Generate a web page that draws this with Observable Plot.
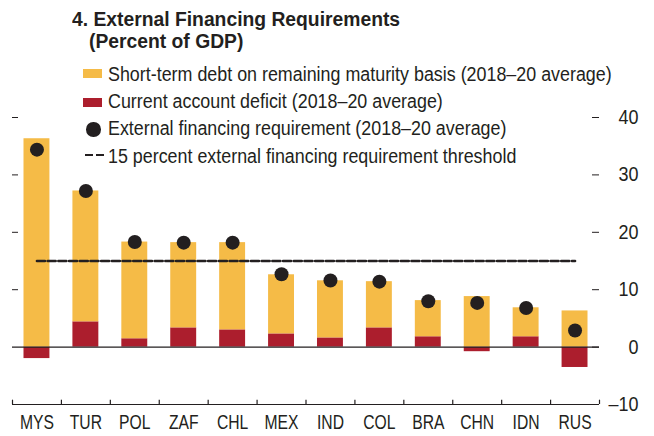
<!DOCTYPE html>
<html><head><meta charset="utf-8">
<script src="https://cdn.jsdelivr.net/npm/d3@7"></script>
<script src="https://cdn.jsdelivr.net/npm/@observablehq/plot@0.6"></script>
<style>
body{margin:0;background:#fff;}
#wrap{position:relative;width:654px;height:436px;font-family:"Liberation Sans",Arial,sans-serif;color:#231f20;}
#wrap svg{position:absolute;left:0;top:0;}
.t{position:absolute;white-space:nowrap;line-height:1;transform-origin:0 0;}
.sw{position:absolute;}
</style></head><body>
<div id="wrap"></div>
<script>
const categories = ["MYS","TUR","POL","ZAF","CHL","MEX","IND","COL","BRA","CHN","IDN","RUS"];
const shortTermDebt = [36.3,22.8,16.85,14.85,15.2,10.3,9.95,8.05,6.3,8.8,5.05,6.3];
const currentAccountDeficit = [-2.0,4.4,1.45,3.35,3.0,2.3,1.6,3.35,1.8,-0.8,1.8,-3.55];
const externalFinancingRequirement = [34.4,27.2,18.3,18.2,18.2,12.7,11.6,11.4,8.0,7.7,6.8,2.9];
const threshold = 15;
const yTicks = [-10,0,10,20,30,40];
const titleLines = ["4. External Financing Requirements","(Percent of GDP)"];
const legendLabels = [
  "Short-term debt on remaining maturity basis (2018–20 average)",
  "Current account deficit (2018–20 average)",
  "External financing requirement (2018–20 average)",
  "15 percent external financing requirement threshold"
];
const YELLOW = "#f5bb47", RED = "#ac1e2d", INK = "#231f20";
const FONT = '"Liberation Sans",Arial,sans-serif';

const rows = [];
categories.forEach((c,i)=>{
  rows.push({c, s:"ca", v: currentAccountDeficit[i]});
  rows.push({c, s:"st", v: shortTermDebt[i]});
});
const dots = categories.map((c,i)=>({c, v: externalFinancingRequirement[i]}));

const W=654, H=436, mL=12, mR=55, mT=117, mB=32;
const step = (W-mL-mR)/categories.length;

const chart = Plot.plot({
  width: W, height: H,
  marginLeft: mL, marginRight: mR, marginTop: mT, marginBottom: mB,
  style: {fontFamily: FONT, fontSize: "20px", color: INK, background: "transparent"},
  x: {type: "band", domain: categories, paddingInner: 0.47, paddingOuter: 0.235, round: false, axis: null},
  y: {domain: [-10, 40], axis: null},
  color: {domain: ["ca","st"], range: [RED, YELLOW]},
  marks: [
    Plot.barY(rows, Plot.stackY({x: "c", y: "v", fill: "s", order: null})),
    Plot.ruleY([0], {stroke: INK, strokeWidth: 1.2}),
    Plot.ruleY([-10], {stroke: INK, strokeWidth: 1.2}),
    Plot.ruleX(categories, {x: d=>d, dx: -step/2, y1: -10, y2: -9.25, stroke: INK, strokeWidth: 1.2}),
    Plot.ruleX(categories.slice(-1), {x: d=>d, dx: step/2, y1: -10, y2: -9.25, stroke: INK, strokeWidth: 1.2}),
    Plot.tickY(yTicks.filter(d=>d>=0), {y: d=>d, insetLeft: W-mL-mR-7, stroke: INK, strokeWidth: 1}),
    Plot.tickY(yTicks.filter(d=>d>0), {y: d=>d, insetRight: W-mL-mR-6, stroke: INK, strokeWidth: 1}),
    Plot.text(yTicks, {y: d=>d, text: d => d < 0 ? "–" + Math.abs(d) : String(d), frameAnchor: "right", textAnchor: "end", lineAnchor: "middle", dx: 39, fontSize: 20, fill: INK}),
    Plot.text(categories, {x: d=>d, text: d=>d, frameAnchor: "bottom", lineAnchor: "middle", dy: 18, fontSize: 20, fill: INK}),
    Plot.lineY(categories, {x: d=>d, y: () => threshold, stroke: INK, strokeWidth: 2.6, strokeDasharray: "8,2.7"}),
    Plot.dot(dots, {x: "c", y: "v", r: 7, fill: INK})
  ]
});
const wrap = document.getElementById("wrap");
wrap.appendChild(chart);

// condense svg text (reference uses a condensed typeface)
const texts = Array.from(chart.querySelectorAll("text"));
const lenOf = s => { const t = texts.find(e => e.textContent === s); return t ? t.getComputedTextLength() : 1; };
const fx = 34 / lenOf("MYS"), fy = 20 / lenOf("40");
texts.forEach(t => {
  const isY = yTicks.some(v => t.textContent === (v < 0 ? "–" + Math.abs(v) : String(v)));
  const f = isY ? fy : fx;
  t.setAttribute("textLength", (t.getComputedTextLength() * f).toFixed(2));
  t.setAttribute("lengthAdjust", "spacingAndGlyphs");
});

function addText(txt, left, baseline, size, bold){
  const d = document.createElement("div");
  d.className = "t";
  d.textContent = txt;
  d.style.left = left+"px"; d.style.top = (baseline - size*0.847)+"px";
  d.style.fontSize = size+"px";
  if (bold) d.style.fontWeight = "bold";
  wrap.appendChild(d);
  return d;
}
function condense(els, target){
  const f = target / els[0].offsetWidth;
  els.forEach(e => e.style.transform = `scaleX(${f})`);
}
const t1 = addText(titleLines[0], 72, 26, 20, true);
const t2 = addText(titleLines[1], 89, 48, 20, true);
condense([t1, t2], 328);

function sw(left, top, w, h, bg, radius){
  const d = document.createElement("div");
  d.className = "sw";
  Object.assign(d.style, {left:left+"px", top:top+"px", width:w+"px", height:h+"px", background:bg, borderRadius: radius||"0"});
  wrap.appendChild(d);
}
sw(83, 69, 19, 9, YELLOW);
sw(83, 98, 19, 9, RED);
sw(86, 122, 14.5, 14.5, INK, "50%");
sw(85, 153.5, 8, 2.8, INK);
sw(96, 153.5, 8, 2.8, INK);
const legBase = [80.7, 107.5, 135, 162.5];
const legEls = legendLabels.map((s, i) => addText(s, 108, legBase[i], 20, false));
condense(legEls, 504);
</script>
</body></html>
